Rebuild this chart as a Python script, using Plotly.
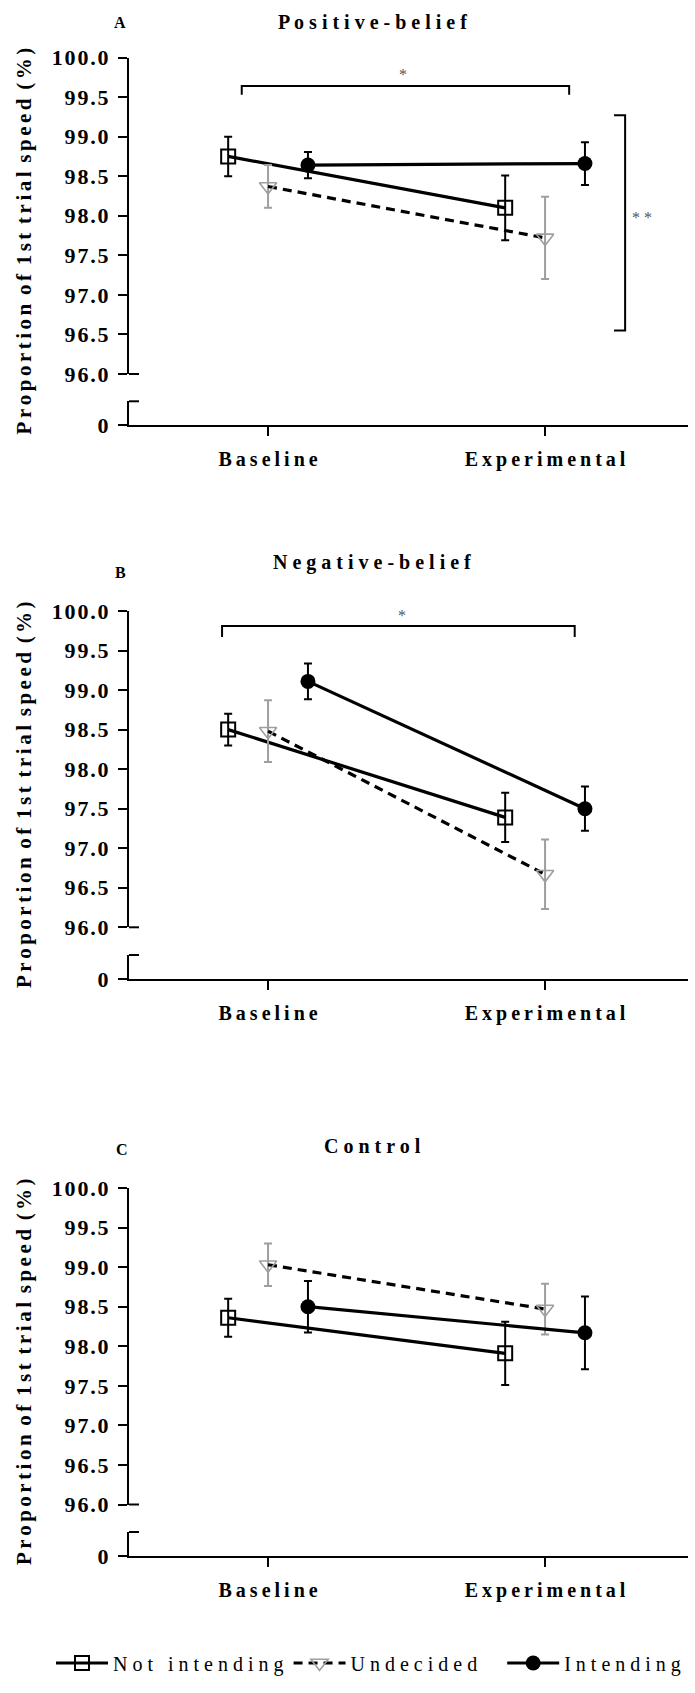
import plotly.graph_objects as go

# ---------------- data ----------------
CATEGORIES = ["Baseline", "Experimental"]
GROUPS = ["Not intending", "Undecided", "Intending"]
PANEL_TITLES = ["Positive-belief", "Negative-belief", "Control"]
PANEL_LETTERS = ["A", "B", "C"]
Y_TICKS = [96.0, 96.5, 97.0, 97.5, 98.0, 98.5, 99.0, 99.5, 100.0]
Y_LOWER_TICKS = [0]
Y_LABEL = "Proportion of 1st trial speed (%)"

# Positive-belief (means, SEM)
POS_NOT = [98.75, 98.10]
POS_NOT_ERR = [0.25, 0.41]
POS_UND = [98.37, 97.72]
POS_UND_ERR = [0.27, 0.52]
POS_INT = [98.64, 98.66]
POS_INT_ERR = [0.165, 0.27]

# Negative-belief
NEG_NOT = [98.50, 97.39]
NEG_NOT_ERR = [0.20, 0.31]
NEG_UND = [98.48, 96.67]
NEG_UND_ERR = [0.39, 0.44]
NEG_INT = [99.11, 97.50]
NEG_INT_ERR = [0.225, 0.28]

# Control
CON_NOT = [98.36, 97.91]
CON_NOT_ERR = [0.24, 0.40]
CON_UND = [99.03, 98.47]
CON_UND_ERR = [0.27, 0.32]
CON_INT = [98.50, 98.17]
CON_INT_ERR = [0.325, 0.46]

PANEL_DATA = [
    [(POS_NOT, POS_NOT_ERR), (POS_UND, POS_UND_ERR), (POS_INT, POS_INT_ERR)],
    [(NEG_NOT, NEG_NOT_ERR), (NEG_UND, NEG_UND_ERR), (NEG_INT, NEG_INT_ERR)],
    [(CON_NOT, CON_NOT_ERR), (CON_UND, CON_UND_ERR), (CON_INT, CON_INT_ERR)],
]

# ---------------- style / layout ----------------
W, H = 695, 1693
FONT = "Liberation Serif, Times New Roman, serif"
GRAY = "#9E9E9E"
GROUP_OFFSET = [-0.144, 0.0, 0.144]
LEGEND_PAD = ["", "\u00a0\u00a0\u00a0\u00a0", ""]
GROUP_STYLE = [
    dict(line=dict(color="black", width=3.2),
         marker=dict(symbol="square-open", size=14, color="black", line=dict(width=2)),
         err_color="black"),
    dict(line=dict(color="black", width=3.2, dash="9px,6px"),
         marker=dict(symbol="triangle-down-open", size=15, color=GRAY, line=dict(width=1.6)),
         err_color=GRAY),
    dict(line=dict(color="black", width=3.2),
         marker=dict(symbol="circle", size=15, color="black", line=dict(width=0)),
         err_color="black"),
]

X_LEFT_PX, X_RIGHT_PX = 129, 688
X_RANGE = [-0.502, 1.516]
# per panel: pixel rows of 100.0, 96.0, top of lower segment, 0
PANEL_PX = [
    (57.5, 374.0, 401.3, 425.3),
    (611.0, 927.3, 955.0, 979.0),
    (1188.0, 1504.5, 1532.0, 1556.0),
]
TITLE_PX = [(372, 22), (372, 563), (372, 1146)]
LETTER_PX = [(120, 22), (120, 572), (122, 1149)]
LEGEND_Y_PX = 1663


def py(px):
    return 1 - px / H


def px_x(px):
    return px / W


def spaced(s, sep, word=" \u00a0"):
    words = s.split(" ")
    return word.join(sep.join(list(w)) for w in words)


fig = go.Figure()
shapes = []
annotations = []
layout_axes = {}

for p in range(3):
    xa = "x" if p == 0 else f"x{p + 1}"
    ya_up = "y" if p == 0 else f"y{2 * p + 1}"
    ya_lo = f"y{2 * p + 2}"
    top, b96, brk, zero = PANEL_PX[p]

    for g in range(3):
        vals, errs = PANEL_DATA[p][g]
        st = GROUP_STYLE[g]
        xs = [i + GROUP_OFFSET[g] for i in range(len(CATEGORIES))]
        fig.add_trace(go.Scatter(
            x=xs, y=vals, mode="lines+markers",
            name=spaced(GROUPS[g], " ", " \u00a0 ") + LEGEND_PAD[g],
            legendgroup=GROUPS[g], showlegend=(p == 0),
            line=st["line"], marker=st["marker"],
            error_y=dict(type="data", array=errs, color=st["err_color"],
                         thickness=2, width=4),
            xaxis=xa, yaxis=ya_up, cliponaxis=False,
        ))
    # empty trace so that the lower (broken) segment subplot is created
    fig.add_trace(go.Scatter(x=[None], y=[None], mode="markers", showlegend=False,
                             hoverinfo="skip", xaxis=xa, yaxis=ya_lo))

    xkey = "xaxis" if p == 0 else f"xaxis{p + 1}"
    yukey = "yaxis" if p == 0 else f"yaxis{2 * p + 1}"
    ylkey = f"yaxis{2 * p + 2}"

    layout_axes[xkey] = dict(
        domain=[px_x(X_LEFT_PX), px_x(X_RIGHT_PX)], range=X_RANGE,
        anchor=ya_lo, showline=True, linecolor="black", linewidth=2,
        tickmode="array", tickvals=list(range(len(CATEGORIES))),
        ticktext=[spaced(c, "\u2009") for c in CATEGORIES],
        ticks="outside", ticklen=9, tickwidth=2, tickcolor="black",
        ticklabelstandoff=6,
        tickfont=dict(family=FONT, size=20, color="black", weight="bold"),
        showgrid=False, zeroline=False,
    )
    layout_axes[yukey] = dict(
        domain=[py(b96), py(top)], range=[96, 100], anchor=xa,
        showline=True, linecolor="black", linewidth=2,
        tickmode="array", tickvals=Y_TICKS,
        ticktext=[spaced(f"{t:.1f}", "\u200a") for t in Y_TICKS],
        ticks="outside", ticklen=9, tickwidth=2, tickcolor="black",
        ticklabelstandoff=5,
        tickfont=dict(family=FONT, size=22, color="black", weight="bold"),
        showgrid=False, zeroline=False,
    )
    layout_axes[ylkey] = dict(
        domain=[py(zero), py(brk)], range=[0, 1], anchor=xa,
        showline=True, linecolor="black", linewidth=2,
        tickmode="array", tickvals=Y_LOWER_TICKS,
        ticktext=[str(t) for t in Y_LOWER_TICKS],
        ticks="outside", ticklen=9, tickwidth=2, tickcolor="black",
        ticklabelstandoff=5,
        tickfont=dict(family=FONT, size=22, color="black", weight="bold"),
        showgrid=False, zeroline=False,
    )

    # axis-break caps (drawn in paper space so they are not clipped)
    for yy in (b96, brk):
        shapes.append(dict(type="line", xref="paper", yref="paper",
                           x0=px_x(X_LEFT_PX), x1=px_x(X_LEFT_PX + 10),
                           y0=py(yy), y1=py(yy),
                           line=dict(color="black", width=2)))

    # titles / letters / y label
    tx, ty = TITLE_PX[p]
    annotations.append(dict(x=px_x(tx), y=py(ty), xref="paper", yref="paper",
                            text=spaced(PANEL_TITLES[p], " "), showarrow=False,
                            xanchor="center", yanchor="middle",
                            font=dict(family=FONT, size=20, color="black", weight="bold")))
    lx, ly = LETTER_PX[p]
    annotations.append(dict(x=px_x(lx), y=py(ly), xref="paper", yref="paper",
                            text=PANEL_LETTERS[p], showarrow=False,
                            xanchor="center", yanchor="middle",
                            font=dict(family=FONT, size=16, color="black", weight="bold")))
    annotations.append(dict(x=px_x(24), y=py((top + zero) / 2), xref="paper", yref="paper",
                            text=spaced(Y_LABEL, "\u2006", " \u2006"), showarrow=False,
                            textangle=-90, xanchor="center", yanchor="middle",
                            font=dict(family=FONT, size=21, color="black", weight="bold")))

# significance brackets (panel A and B)
BR = dict(color="black", width=2)
shapes.append(dict(type="path", xref="x", yref="y",
                   path="M -0.095,99.53 L -0.095,99.64 L 1.087,99.64 L 1.087,99.53",
                   line=BR))
shapes.append(dict(type="path", xref="x", yref="y",
                   path="M 1.249,99.27 L 1.289,99.27 L 1.289,96.55 L 1.249,96.55",
                   line=BR))
shapes.append(dict(type="path", xref="x2", yref="y3",
                   path="M -0.166,99.67 L -0.166,99.81 L 1.107,99.81 L 1.107,99.67",
                   line=BR))
STAR_FONT = dict(family=FONT, size=16, color="#555555")
annotations.append(dict(x=0.486, y=99.79, xref="x", yref="y", text="*",
                        showarrow=False, font=STAR_FONT))
annotations.append(dict(x=1.349, y=97.98, xref="x", yref="y", text="* *",
                        showarrow=False, font=STAR_FONT))
annotations.append(dict(x=0.484, y=99.94, xref="x2", yref="y3", text="*",
                        showarrow=False, font=STAR_FONT))

fig.update_layout(
    width=W, height=H, autosize=False,
    margin=dict(l=0, r=0, t=0, b=0, pad=0, autoexpand=False),
    paper_bgcolor="white", plot_bgcolor="white",
    shapes=shapes, annotations=annotations,
    legend=dict(orientation="h", x=px_x(51), xanchor="left",
                y=py(LEGEND_Y_PX), yanchor="middle", itemwidth=52,
                font=dict(family=FONT, size=20, color="black"),
                bgcolor="rgba(0,0,0,0)"),
    **layout_axes,
)

fig.write_html(
    "out.html",
    config={"displayModeBar": False},
    post_script="document.body.style.margin='0px';document.body.style.padding='0px';",
)
